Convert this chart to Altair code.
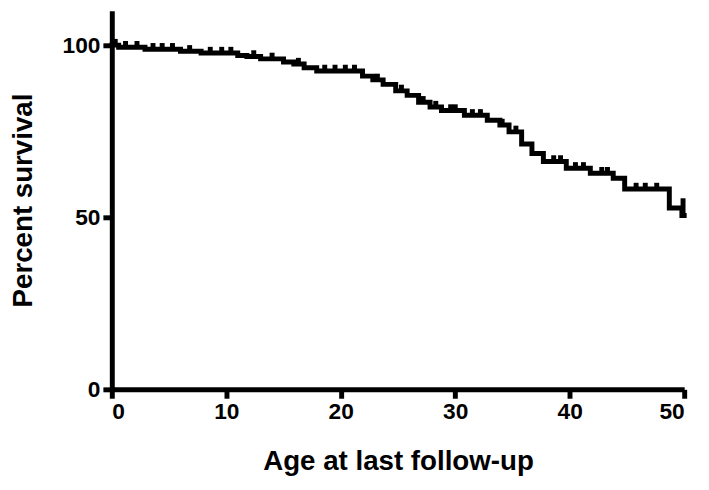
import numpy as np
import pandas as pd
import altair as alt

# Kaplan-Meier step curve (time of event, survival after event)
step_times = [0, 0.6, 2.9, 6.0, 7.8, 11.0, 11.8, 13.0, 15.0, 15.9, 16.8, 17.9,
              21.9, 22.8, 23.7, 24.8, 25.8, 26.8, 27.8, 28.8, 30.8, 32.8, 33.9,
              34.7, 35.8, 36.7, 37.7, 39.7, 41.8, 43.8, 44.8, 48.7, 49.8, 50.0]
step_surv = [100.0, 99.4, 98.8, 98.2, 97.7, 97.0, 96.7, 96.0, 95.1, 94.5, 93.4, 92.5,
             91.0, 89.9, 88.6, 86.7, 85.4, 83.4, 82.0, 81.0, 79.6, 78.2, 76.8,
             74.8, 71.3, 68.5, 66.2, 64.2, 62.8, 61.3, 58.2, 52.7, 50.5, 50.5]

# censored observations
censor_times = [0.3, 1.2, 2.2, 3.6, 4.4, 5.3, 6.8, 8.6, 9.6, 10.4, 12.4, 14.0,
                16.3, 18.6, 19.5, 20.4, 21.2, 23.2, 25.3, 27.2, 28.3, 29.6, 30.0,
                31.5, 32.2, 34.1, 35.3, 38.6, 39.2, 40.5, 41.2, 42.8, 43.3,
                45.8, 46.6, 47.6, 49.9]

surv_at = [step_surv[np.searchsorted(step_times, t, side="right") - 1] for t in censor_times]
steps = pd.DataFrame({"t": step_times, "s": step_surv})
cens = pd.DataFrame({"t": censor_times, "s": surv_at})
cens["top"] = cens["s"] + 1.8
cens.loc[cens["t"] > 49.5, "top"] = 55.5

font = "Liberation Sans"
x_scale = alt.Scale(domain=[0, 50], nice=False, zero=False)
y_scale = alt.Scale(domain=[0, 110], nice=False)

line = alt.Chart(steps).mark_line(interpolate="step-after", color="black",
                                  strokeWidth=5, strokeCap="square").encode(
    x=alt.X("t:Q", scale=x_scale, title="Age at last follow-up",
            axis=alt.Axis(values=[0, 10, 20, 30, 40, 50])),
    y=alt.Y("s:Q", scale=y_scale, title="Percent survival",
            axis=alt.Axis(values=[0, 50, 100])),
)

ticks = alt.Chart(cens).mark_rule(color="black", strokeWidth=5).encode(
    x="t:Q", y="s:Q", y2="top:Q"
)

chart = (line + ticks).properties(
    width=579, height=383,
    autosize=alt.AutoSizeParams(type="none"),
    padding={"left": 105, "top": 0, "right": 17, "bottom": 90},
).configure_view(stroke=None).configure_axis(
    grid=False, domainColor="black", domainWidth=5, tickColor="black",
    tickWidth=5, tickSize=9, labelFont=font, labelFontSize=23,
    labelFontWeight="bold", labelColor="black", titleFont=font,
    titleFontSize=28, titleFontWeight="bold", titleColor="black",
    labelPadding=3,
).configure_axisY(titlePadding=25).configure_axisX(titlePadding=24)

chart.save("out.html", embed_options={"renderer": "svg", "actions": False})
